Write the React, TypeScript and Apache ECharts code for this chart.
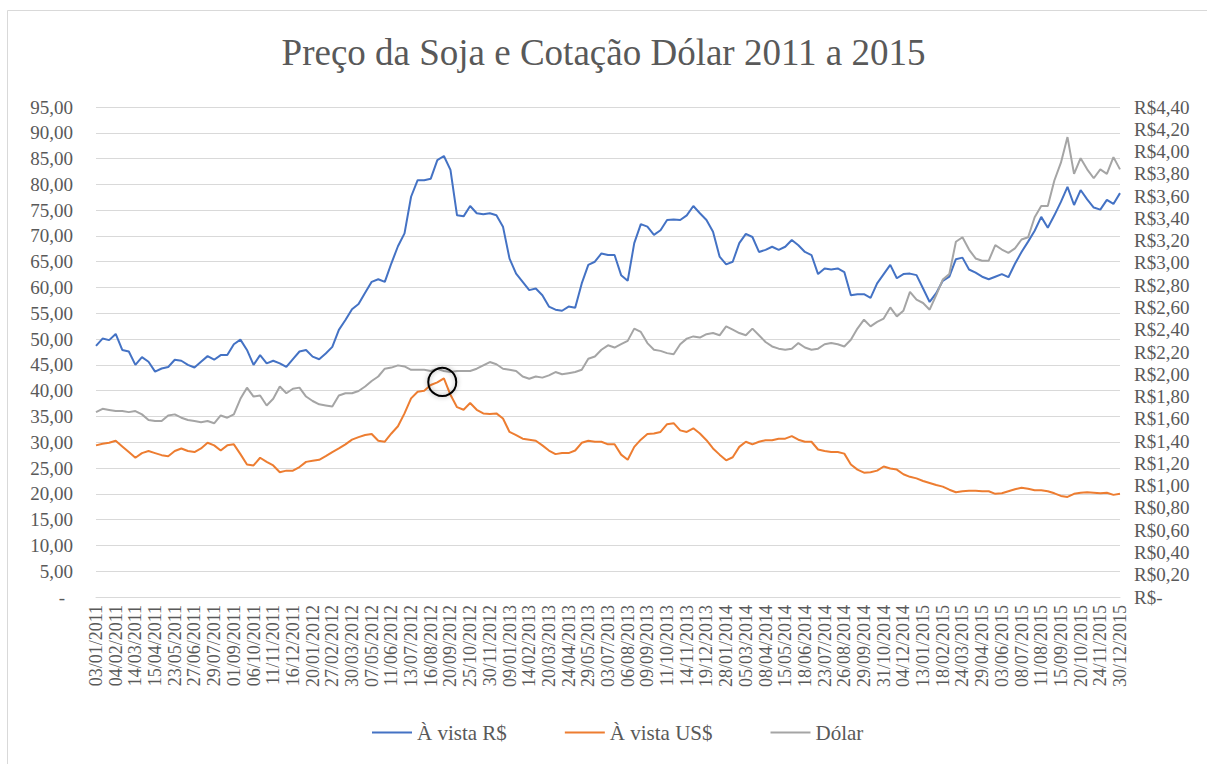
import React, { useEffect, useRef } from "react";
import * as echarts from "echarts";

// Tick labels of the category (trading-day) axis, one every 24 trading days
const xLabels = [
  "03/01/2011", "04/02/2011", "14/03/2011", "15/04/2011", "23/05/2011", "27/06/2011",
  "29/07/2011", "01/09/2011", "06/10/2011", "11/11/2011", "16/12/2011", "20/01/2012",
  "27/02/2012", "30/03/2012", "07/05/2012", "11/06/2012", "13/07/2012", "16/08/2012",
  "20/09/2012", "25/10/2012", "30/11/2012", "09/01/2013", "14/02/2013", "20/03/2013",
  "24/04/2013", "29/05/2013", "03/07/2013", "06/08/2013", "09/09/2013", "11/10/2013",
  "14/11/2013", "19/12/2013", "28/01/2014", "05/03/2014", "08/04/2014", "15/05/2014",
  "18/06/2014", "23/07/2014", "26/08/2014", "29/09/2014", "31/10/2014", "04/12/2014",
  "13/01/2015", "18/02/2015", "24/03/2015", "29/04/2015", "03/06/2015", "08/07/2015",
  "11/08/2015", "15/09/2015", "20/10/2015", "24/11/2015", "30/12/2015",
];
const LABEL_EVERY = 24; // trading days between two tick labels
const STEP = 8; // trading days between two samples below

// À vista R$ (soja, R$/saca) – left axis
const avistaRS = [
  48.7, 50.1, 49.8, 51.0, 47.9, 47.6, 45.0, 46.5, 45.6, 43.7,
  44.3, 44.6, 46.0, 45.8, 45.0, 44.5, 45.6, 46.7, 46.0, 46.9,
  46.9, 49.0, 49.9, 47.9, 45.0, 46.9, 45.3, 45.8, 45.3, 44.6,
  46.1, 47.6, 47.9, 46.6, 46.1, 47.2, 48.5, 51.8, 53.7, 55.8,
  56.8, 59.0, 61.1, 61.6, 61.1, 64.7, 68.0, 70.5, 77.6, 80.8,
  80.8, 81.1, 84.7, 85.5, 82.8, 74.0, 73.8, 75.8, 74.4, 74.2,
  74.4, 74.0, 71.8, 65.6, 62.7, 61.1, 59.5, 59.8, 58.5, 56.3,
  55.7, 55.5, 56.3, 56.1, 60.8, 64.4, 65.0, 66.6, 66.3, 66.3,
  62.4, 61.3, 68.6, 72.3, 71.8, 70.2, 71.1, 73.1, 73.2, 73.1,
  74.0, 75.8, 74.4, 73.1, 70.8, 66.0, 64.5, 65.0, 68.6, 70.4,
  69.8, 66.9, 67.3, 67.9, 67.3, 67.9, 69.2, 68.2, 66.9, 66.3,
  62.6, 63.7, 63.5, 63.7, 63.0, 58.5, 58.7, 58.7, 58.0, 60.8,
  62.6, 64.4, 61.8, 62.6, 62.7, 62.4, 59.8, 57.2, 58.9, 61.3,
  62.1, 65.5, 65.8, 63.5, 62.9, 62.1, 61.6, 62.1, 62.6, 62.0,
  64.6, 66.9, 68.9, 71.0, 73.7, 71.6, 74.0, 76.6, 79.5, 76.0,
  78.9, 77.1, 75.5, 75.1, 77.0, 76.2, 78.3,
];

// À vista US$ (soja, US$/saca) – left axis
const avistaUS = [
  29.4, 29.7, 29.9, 30.3, 29.2, 28.1, 27.0, 27.9, 28.3, 27.9,
  27.5, 27.3, 28.3, 28.8, 28.3, 28.1, 28.8, 29.9, 29.4, 28.4,
  29.4, 29.6, 27.7, 25.7, 25.5, 27.0, 26.2, 25.5, 24.2, 24.5,
  24.5, 25.2, 26.2, 26.4, 26.6, 27.3, 28.1, 28.8, 29.6, 30.5,
  31.0, 31.4, 31.6, 30.3, 30.1, 31.7, 33.1, 35.6, 38.5, 39.8,
  40.0, 41.1, 41.6, 42.4, 39.2, 36.8, 36.3, 37.6, 36.3, 35.6,
  35.5, 35.6, 34.6, 32.0, 31.4, 30.7, 30.5, 30.3, 29.4, 28.4,
  27.7, 27.9, 27.9, 28.4, 29.9, 30.3, 30.1, 30.1, 29.6, 29.6,
  27.6, 26.6, 29.1, 30.5, 31.6, 31.7, 32.0, 33.5, 33.7, 32.3,
  32.0, 32.7, 31.7, 30.4, 28.8, 27.6, 26.5, 27.1, 29.1, 30.1,
  29.6, 30.1, 30.4, 30.4, 30.7, 30.7, 31.2, 30.5, 30.1, 30.1,
  28.6, 28.3, 28.1, 28.1, 27.8, 25.7, 24.7, 24.1, 24.2, 24.5,
  25.3, 24.9, 24.7, 23.8, 23.3, 23.0, 22.5, 22.1, 21.7, 21.4,
  20.8, 20.3, 20.5, 20.6, 20.6, 20.5, 20.5, 20.0, 20.1, 20.5,
  20.9, 21.2, 21.0, 20.7, 20.7, 20.5, 20.1, 19.6, 19.4, 20.0,
  20.2, 20.3, 20.2, 20.1, 20.2, 19.8, 20.0,
];

// Dólar (R$ por US$) – right axis
const dolar = [
  1.66, 1.69, 1.68, 1.67, 1.67, 1.66, 1.67, 1.64, 1.59, 1.58,
  1.58, 1.63, 1.64, 1.61, 1.59, 1.58, 1.57, 1.58, 1.56, 1.63,
  1.61, 1.64, 1.78, 1.88, 1.80, 1.81, 1.72, 1.78, 1.89, 1.83,
  1.87, 1.88, 1.80, 1.76, 1.73, 1.72, 1.71, 1.81, 1.83, 1.83,
  1.85, 1.89, 1.94, 1.98, 2.05, 2.06, 2.08, 2.07, 2.04, 2.04,
  2.04, 2.03, 2.05, 2.03, 2.02, 2.03, 2.03, 2.03, 2.05, 2.08,
  2.11, 2.09, 2.05, 2.04, 2.03, 1.98, 1.96, 1.98, 1.97, 1.99,
  2.02, 2.00, 2.01, 2.02, 2.04, 2.14, 2.16, 2.22, 2.26, 2.24,
  2.27, 2.30, 2.41, 2.38, 2.28, 2.22, 2.21, 2.19, 2.18, 2.27,
  2.32, 2.34, 2.33, 2.36, 2.37, 2.35, 2.43, 2.40, 2.37, 2.35,
  2.41, 2.35, 2.29, 2.25, 2.23, 2.22, 2.23, 2.28, 2.24, 2.22,
  2.23, 2.27, 2.28, 2.27, 2.25, 2.31, 2.41, 2.49, 2.43, 2.47,
  2.50, 2.60, 2.52, 2.57, 2.74, 2.67, 2.64, 2.58, 2.71, 2.85,
  2.90, 3.19, 3.23, 3.12, 3.04, 3.02, 3.02, 3.16, 3.12, 3.09,
  3.13, 3.21, 3.23, 3.41, 3.51, 3.51, 3.74, 3.90, 4.13, 3.80,
  3.94, 3.84, 3.76, 3.84, 3.80, 3.95, 3.84,
];

// Highlighted point (circle annotation) on À vista US$: [trading-day index, value]
const highlight = [422, 41.7];

const FONT = '"Liberation Serif", "DejaVu Serif", serif';
const TXT = "#595959";

export default function App() {
  const ref = useRef<HTMLDivElement>(null);

  useEffect(() => {
    if (!ref.current) return;
    const chart = echarts.init(ref.current, null, { renderer: "svg" });
    const toPts = (arr: number[]) => arr.map((v, i) => [i * STEP, v]);
    const fmtNum = (v: number) => v.toFixed(2).replace(".", ",");

    chart.setOption({
      animation: false,
      backgroundColor: "#ffffff",
      textStyle: { fontFamily: FONT },
      title: {
        text: "Preço da Soja e Cotação Dólar 2011 a 2015",
        left: "center",
        top: 29,
        textStyle: { fontFamily: FONT, fontSize: 37, fontWeight: "normal", color: TXT },
      },
      graphic: [
        {
          type: "rect",
          silent: true,
          shape: { x: 7.5, y: 10.5, width: 1300, height: 900 },
          style: { fill: "none", stroke: "#d9d9d9", lineWidth: 1 },
        },
      ],
      legend: {
        left: 367,
        top: 717,
        icon: "rect",
        itemWidth: 40,
        itemHeight: 2,
        itemGap: 58,
        textStyle: { fontFamily: FONT, fontSize: 21, color: TXT },
        data: ["À vista R$", "À vista US$", "Dólar"],
      },
      grid: { left: 96, right: 87, top: 107, bottom: 167, containLabel: false },
      xAxis: {
        type: "value",
        min: 0,
        max: (xLabels.length - 1) * LABEL_EVERY,
        interval: LABEL_EVERY,
        axisLine: { show: true, lineStyle: { color: "#d9d9d9", width: 1 } },
        axisTick: { show: false },
        splitLine: { show: false },
        axisLabel: {
          rotate: 90,
          fontFamily: FONT,
          fontSize: 18,
          color: TXT,
          margin: 8,
          showMinLabel: true,
          showMaxLabel: true,
          formatter: (v: number) => xLabels[Math.round(v / LABEL_EVERY)] ?? "",
        },
      },
      yAxis: [
        {
          type: "value",
          min: 0,
          max: 95,
          interval: 5,
          axisLine: { show: false },
          axisTick: { show: false },
          splitLine: { show: true, lineStyle: { color: "#d9d9d9", width: 1 } },
          axisLabel: {
            fontFamily: FONT,
            fontSize: 19,
            color: TXT,
            margin: 23,
            formatter: (v: number) => (v === 0 ? "{d|-}" : fmtNum(v)),
            rich: { d: { fontFamily: FONT, fontSize: 19, color: TXT, padding: [0, 8, 0, 0] } },
          },
        },
        {
          type: "value",
          position: "right",
          min: 0,
          max: 4.4,
          interval: 0.2,
          axisLine: { show: false },
          axisTick: { show: false },
          splitLine: { show: false },
          axisLabel: {
            fontFamily: FONT,
            fontSize: 19,
            color: TXT,
            margin: 14,
            formatter: (v: number) => (v === 0 ? "R$-" : "R$" + fmtNum(v)),
          },
        },
      ],
      series: [
        {
          name: "À vista R$",
          type: "line",
          yAxisIndex: 0,
          symbol: "none",
          data: toPts(avistaRS),
          lineStyle: { color: "#4472C4", width: 2 },
          itemStyle: { color: "#4472C4" },
        },
        {
          name: "À vista US$",
          type: "line",
          yAxisIndex: 0,
          symbol: "none",
          data: toPts(avistaUS),
          lineStyle: { color: "#ED7D31", width: 2 },
          itemStyle: { color: "#ED7D31" },
          markPoint: {
            symbol: "circle",
            symbolSize: 28,
            silent: true,
            label: { show: false },
            itemStyle: {
              color: "rgba(0,0,0,0)",
              borderColor: "#000000",
              borderWidth: 2,
              shadowBlur: 5,
              shadowColor: "rgba(0,0,0,0.35)",
            },
            data: [{ coord: highlight }],
          },
        },
        {
          name: "Dólar",
          type: "line",
          yAxisIndex: 1,
          symbol: "none",
          data: toPts(dolar),
          lineStyle: { color: "#A5A5A5", width: 2 },
          itemStyle: { color: "#A5A5A5" },
        },
      ],
    });

    return () => chart.dispose();
  }, []);

  return (
    <div
      ref={ref}
      style={{ position: "fixed", left: 0, top: 0, width: 1207, height: 764, background: "#fff" }}
    />
  );
}
